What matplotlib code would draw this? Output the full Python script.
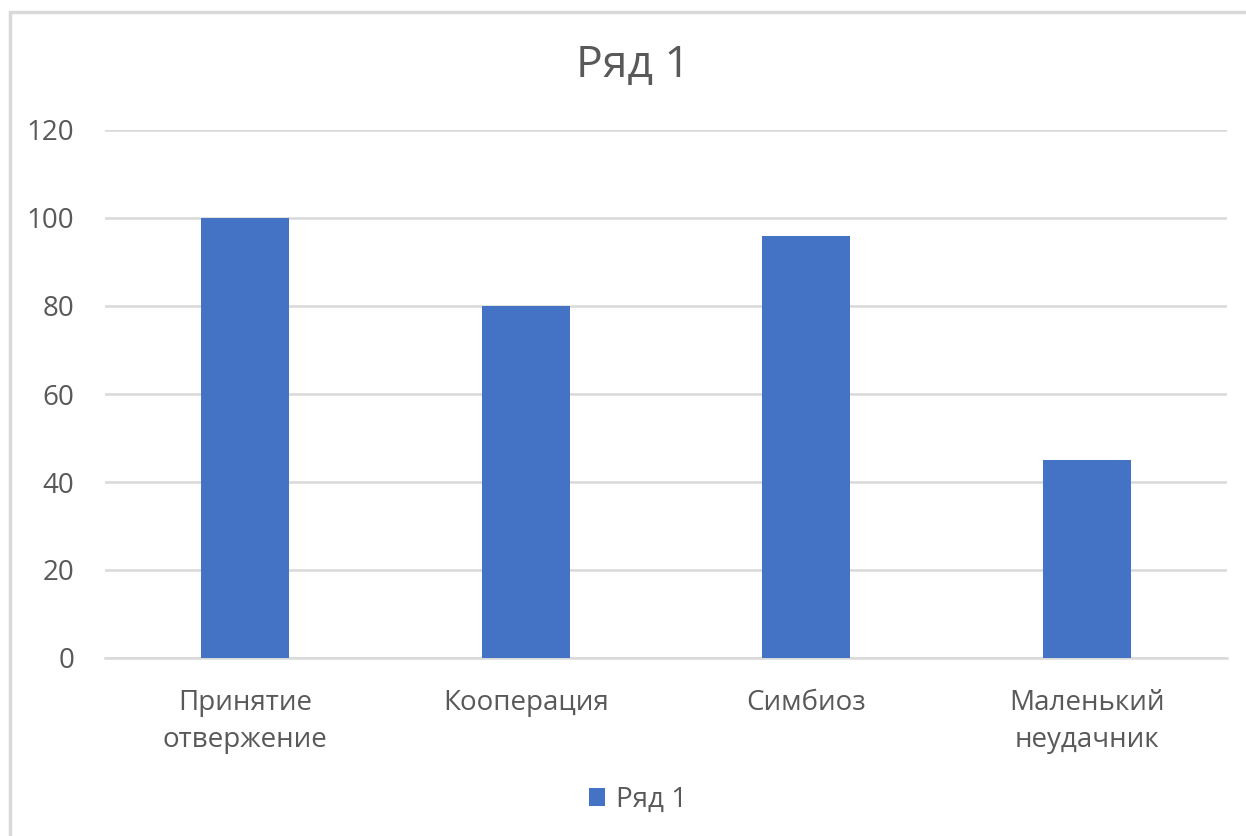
import matplotlib.pyplot as plt
from matplotlib.patches import Rectangle

plt.rcParams['font.family'] = ['Open Sans', 'DejaVu Sans']

categories = ['Принятие\nотвержение', 'Кооперация', 'Симбиоз', 'Маленький\nнеудачник']
values = [100, 80, 96, 45]
series_name = 'Ряд 1'
yticks = [0, 20, 40, 60, 80, 100, 120]

bar_color = '#4472c4'
grid_color = '#d9d9d9'
text_color = '#595959'

fig = plt.figure(figsize=(12.46, 8.36), dpi=100, facecolor='w')
ax = fig.add_axes([105 / 1246, 1 - 658 / 836, 1122 / 1246, 528 / 836])

x = list(range(len(categories)))
ax.bar(x, values, width=0.313, color=bar_color, label=series_name, zorder=3)

ax.set_xlim(-0.5, len(categories) - 0.5)
ax.set_ylim(0, 120)
ax.set_yticks(yticks)
ax.set_xticks(x)
ax.set_xticklabels(categories, linespacing=1.45)
ax.tick_params(axis='both', length=0, labelsize=20, colors=text_color)
ax.tick_params(axis='x', pad=22)
ax.tick_params(axis='y', pad=22)
ax.yaxis.grid(True, color=grid_color, linewidth=1.8, zorder=0)
for s in ['top', 'right', 'left']:
    ax.spines[s].set_visible(False)
ax.spines['bottom'].set_color(grid_color)
ax.spines['bottom'].set_linewidth(1.8)

fig.text(633 / 1246, 1 - 66 / 836, series_name, ha='center', va='center',
         fontsize=32, color=text_color)

leg = fig.legend(loc='center', bbox_to_anchor=(638 / 1246, 1 - 800 / 836),
                 frameon=False, fontsize=20, handlelength=0.6, handleheight=0.6,
                 handletextpad=0.4)
for t in leg.get_texts():
    t.set_color(text_color)

# chart border (cropped screenshot)
fig.patches.append(Rectangle((10 / 1246, -0.05), 1.2, 1 - 12.5 / 836 + 0.05,
                             transform=fig.transFigure, fill=False,
                             edgecolor=grid_color, linewidth=2.5))

fig.savefig('out.png', dpi=100)
